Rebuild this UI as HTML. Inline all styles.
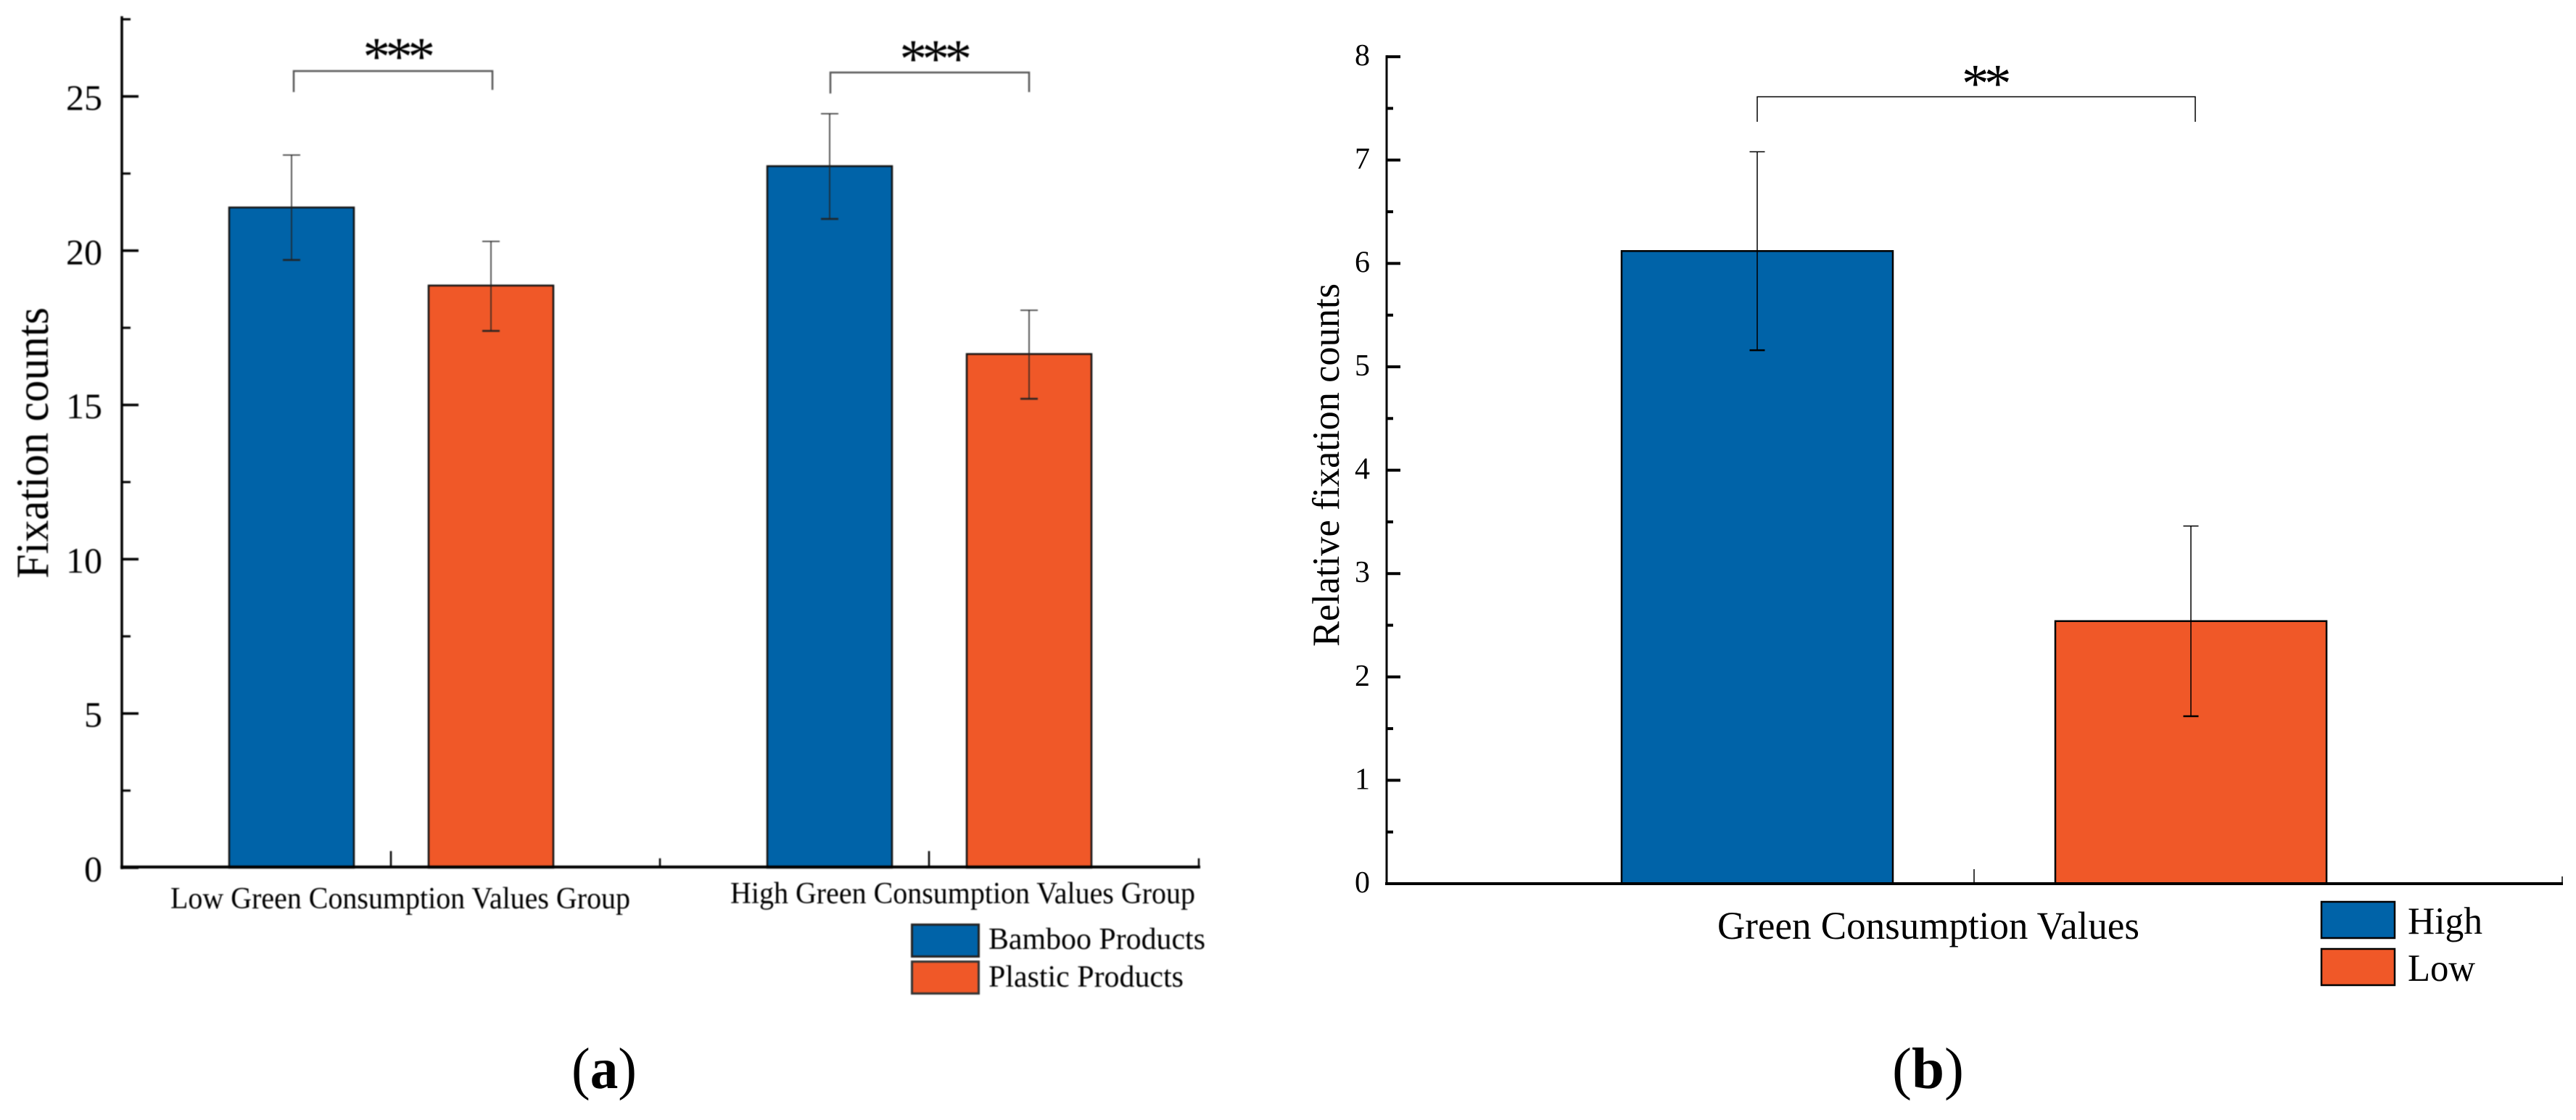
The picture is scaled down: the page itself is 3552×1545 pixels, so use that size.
<!DOCTYPE html>
<html lang="en">
<head>
<meta charset="utf-8">
<title>Fixation counts by green consumption values</title>
<style>
  html,body{margin:0;padding:0;background:#fff;width:3552px;height:1545px;overflow:hidden}
  svg{display:block}
  text{font-family:"Liberation Serif","Times New Roman",serif;fill:#000}
  #panel-a{filter:blur(0.9px)}
</style>
</head>
<body>
<svg id="figure" xmlns="http://www.w3.org/2000/svg" width="3552" height="1545" viewBox="0 0 3552 1545">
  <rect width="3552" height="1545" fill="#fff"/>

  <g id="panel-a">
    <g id="a-bars"></g>
    <g id="a-errors"></g>
    <g id="a-axes"></g>
    <text transform="translate(66,798) rotate(-90)" font-size="64" textLength="374" lengthAdjust="spacingAndGlyphs">Fixation counts</text>
    <text x="235" y="1253" font-size="42" textLength="634" lengthAdjust="spacingAndGlyphs">Low Green Consumption Values Group</text>
    <text x="1007" y="1246" font-size="42" textLength="641" lengthAdjust="spacingAndGlyphs">High Green Consumption Values Group</text>
    <path d="M405 127V98H679V124" fill="none" stroke="#555" stroke-width="2.5"/>
    <text x="547" y="103" font-size="75" text-anchor="middle" letter-spacing="-6.5">***</text>
    <path d="M1145 129V100H1419V127" fill="none" stroke="#555" stroke-width="2.5"/>
    <text x="1287" y="106" font-size="75" text-anchor="middle" letter-spacing="-6.5">***</text>
    <rect x="1257.5" y="1275.5" width="92" height="44" fill="#0063A8" stroke="#222" stroke-width="3"/>
    <text x="1363" y="1309" font-size="42" textLength="299" lengthAdjust="spacingAndGlyphs">Bamboo Products</text>
    <rect x="1257.5" y="1326.5" width="92" height="44" fill="#F05828" stroke="#333" stroke-width="3"/>
    <text x="1363" y="1361" font-size="42" textLength="269" lengthAdjust="spacingAndGlyphs">Plastic Products</text>
  </g>

  <g id="panel-b">
    <g id="b-bars"></g>
    <g id="b-errors"></g>
    <g id="b-axes"></g>
    <text transform="translate(1846,892) rotate(-90)" font-size="53" textLength="501" lengthAdjust="spacingAndGlyphs">Relative fixation counts</text>
    <text x="2368" y="1295" font-size="54" textLength="582" lengthAdjust="spacingAndGlyphs">Green Consumption Values</text>
    <path d="M2423 168V133.5H3027V168" fill="none" stroke="#000" stroke-width="1.5"/>
    <text x="2736" y="140" font-size="75" text-anchor="middle" letter-spacing="-6.5">**</text>
    <rect x="3201" y="1244" width="101" height="50" fill="#0063A8" stroke="#000" stroke-width="2.5"/>
    <text x="3320" y="1288" font-size="53" textLength="103" lengthAdjust="spacingAndGlyphs">High</text>
    <rect x="3201" y="1309" width="101" height="50" fill="#F05828" stroke="#000" stroke-width="2.5"/>
    <text x="3320" y="1353" font-size="53" textLength="93" lengthAdjust="spacingAndGlyphs">Low</text>
  </g>

  <text x="788" y="1501" font-size="80" textLength="90" lengthAdjust="spacingAndGlyphs">(<tspan font-weight="bold">a</tspan>)</text>
  <text x="2609" y="1501" font-size="80" textLength="99" lengthAdjust="spacingAndGlyphs">(<tspan font-weight="bold">b</tspan>)</text>
</svg>

<script>
// Panel (a) data
const aCategories = ["Low Green Consumption Values Group", "High Green Consumption Values Group"];
const aBambooValues = [21.4, 22.74];
const aBambooUpper = [23.1, 24.44];
const aBambooLower = [19.7, 21.03];
const aPlasticValues = [18.87, 16.65];
const aPlasticUpper = [20.3, 18.07];
const aPlasticLower = [17.4, 15.2];
const aYMajorTicks = [0, 5, 10, 15, 20, 25];
const aYMinorTicks = [2.5, 7.5, 12.5, 17.5, 22.5, 27.5];

// Panel (b) data
const bCategories = ["High", "Low"];
const bValues = [6.12, 2.54];
const bUpper = [7.08, 3.46];
const bLower = [5.16, 1.62];
const bYMajorTicks = [0, 1, 2, 3, 4, 5, 6, 7, 8];
const bYMinorTicks = [0.5, 1.5, 2.5, 3.5, 4.5, 5.5, 6.5, 7.5];

const NS = 'http://www.w3.org/2000/svg';
const BLUE = '#0063A8';
const ORANGE = '#F05828';

// Axis functions
function aY(v) { return 1197 - v * 42.56; }
function aX(category, series) { return 539.5 + category * 742 + (series === 0 ? -137.5 : 137.5); }
function bY(v) { return 1219 - v * 142.6; }
function bX(category) { return 2423 + category * 598; }

function make(parent, tag, attrs, txt) {
  const el = document.createElementNS(NS, tag);
  for (const k in attrs) el.setAttribute(k, attrs[k]);
  if (txt !== undefined) el.textContent = txt;
  parent.appendChild(el);
  return el;
}

function errorBar(parent, x, yTop, yBot, cap, color) {
  const g = make(parent, 'g', { stroke: color, fill: 'none' });
  make(g, 'line', { x1: x, x2: x, y1: yTop, y2: yBot, 'stroke-width': 1.5 });
  make(g, 'line', { x1: x - cap, x2: x + cap, y1: yTop, y2: yTop, 'stroke-width': 1.5 });
  make(g, 'line', { x1: x - cap, x2: x + cap, y1: yBot, y2: yBot, 'stroke-width': 2.5 });
  return g;
}

// Panel (a) bars and error bars
const aBarsG = document.getElementById('a-bars');
const aErrG = document.getElementById('a-errors');
aCategories.forEach(function (cat, i) {
  [[aBambooValues, aBambooUpper, aBambooLower, BLUE, 'bamboo'],
   [aPlasticValues, aPlasticUpper, aPlasticLower, ORANGE, 'plastic']].forEach(function (s, j) {
    const cx = aX(i, j);
    const bar = make(aBarsG, 'rect', {
      x: cx - 86, y: aY(s[0][i]), width: 172, height: aY(0) - aY(s[0][i]),
      fill: s[3], stroke: '#111', 'stroke-width': 2.5
    });
    
    
    const err = errorBar(aErrG, cx, aY(s[1][i]), aY(s[2][i]), 12, '#222');
    
    
  });
});

// Panel (a) axes
const aAxes = document.getElementById('a-axes');
const aYLine = make(aAxes, 'line', { x1: 168, x2: 168, y1: aY(27.6), y2: aY(0) + 2, stroke: '#000', 'stroke-width': 3.5 });


const aXLine = make(aAxes, 'line', { x1: 166, x2: 1655, y1: 1196, y2: 1196, stroke: '#000', 'stroke-width': 4 });


aYMajorTicks.forEach(function (v) {
  const t = make(aAxes, 'line', { x1: 168, x2: 191, y1: aY(v), y2: aY(v), stroke: '#000', 'stroke-width': 3.5 });
  
  
  const l = make(aAxes, 'text', { x: 141, y: aY(v) + 18.5, 'font-size': 50, 'text-anchor': 'end' }, String(v));
  
  
});
aYMinorTicks.forEach(function (v) {
  const t = make(aAxes, 'line', { x1: 168, x2: 180, y1: aY(v), y2: aY(v), stroke: '#000', 'stroke-width': 3 });
  
  
});
aCategories.forEach(function (cat, i) {
  const x = 539 + i * 742;
  const t = make(aAxes, 'line', { x1: x, x2: x, y1: 1174, y2: 1196, stroke: '#000', 'stroke-width': 2.5 });
  
  
});
[168, 910, 1653].forEach(function (x) {
  const t = make(aAxes, 'line', { x1: x, x2: x, y1: 1184, y2: 1196, stroke: '#000', 'stroke-width': 2.5 });
  
  
});

// Panel (b) bars and error bars
const bBarsG = document.getElementById('b-bars');
const bErrG = document.getElementById('b-errors');
bCategories.forEach(function (cat, i) {
  const cx = bX(i);
  const bar = make(bBarsG, 'rect', {
    x: cx - 187, y: bY(bValues[i]), width: 374, height: bY(0) - bY(bValues[i]),
    fill: i === 0 ? BLUE : ORANGE, stroke: '#000', 'stroke-width': 2.5
  });
  
  
  const err = errorBar(bErrG, cx, bY(bUpper[i]), bY(bLower[i]), 10.5, '#000');
  
  
});

// Panel (b) axes
const bAxes = document.getElementById('b-axes');
const bYLine = make(bAxes, 'line', { x1: 1912, x2: 1912, y1: bY(8) - 2, y2: bY(0) + 2, stroke: '#000', 'stroke-width': 3 });


const bXLine = make(bAxes, 'line', { x1: 1910, x2: 3534, y1: 1219, y2: 1219, stroke: '#000', 'stroke-width': 4 });


bYMajorTicks.forEach(function (v) {
  const t = make(bAxes, 'line', { x1: 1912, x2: 1931, y1: bY(v), y2: bY(v), stroke: '#000', 'stroke-width': 4 });
  
  
  const l = make(bAxes, 'text', { x: 1889, y: bY(v) + 12, 'font-size': 42, 'text-anchor': 'end' }, String(v));
  
  
});
bYMinorTicks.forEach(function (v) {
  const t = make(bAxes, 'line', { x1: 1912, x2: 1921, y1: bY(v), y2: bY(v), stroke: '#000', 'stroke-width': 4 });
  
  
});
const bMajorX = make(bAxes, 'line', { x1: 2722, x2: 2722, y1: 1199, y2: 1219, stroke: '#000', 'stroke-width': 1.5 });


const bMinorX = make(bAxes, 'line', { x1: 3533, x2: 3533, y1: 1209, y2: 1219, stroke: '#000', 'stroke-width': 1.5 });


</script>
</body>
</html>
